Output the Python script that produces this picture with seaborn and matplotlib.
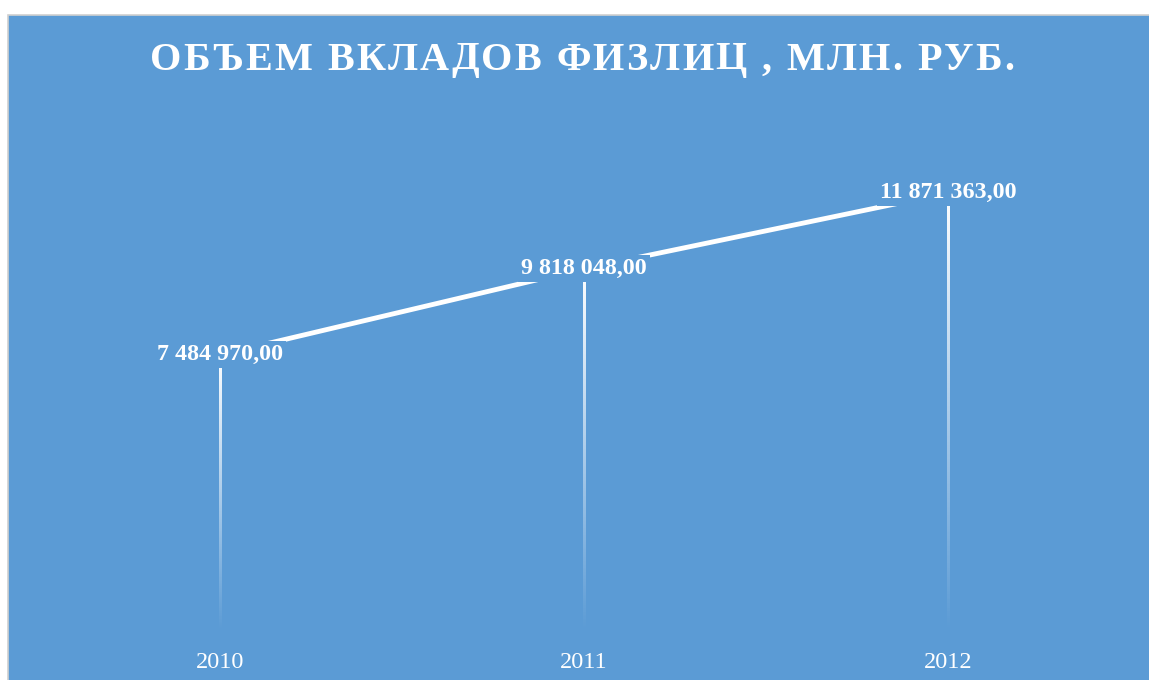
import numpy as np
import pandas as pd
import matplotlib
matplotlib.use("Agg")
import matplotlib.pyplot as plt
from matplotlib.colors import LinearSegmentedColormap
from matplotlib.patches import Rectangle
from matplotlib.font_manager import FontProperties
import seaborn as sns

# data
years = [2010, 2011, 2012]
deposits = [7484970.00, 9818048.00, 11871363.00]
title = "ОБЪЕМ ВКЛАДОВ ФИЗЛИЦ , МЛН. РУБ."

BLUE = "#5B9BD5"

def fmt(v):
    s = "{:,.2f}".format(v)
    return s.replace(",", " ").replace(".", ",")

sns.set_style("white")
plt.rcParams["font.family"] = ["Liberation Serif", "DejaVu Serif"]

df = pd.DataFrame({"year": years, "value": deposits})

W, H = 1149, 680
fig = plt.figure(figsize=(W / 100, H / 100), dpi=100)
fig.patch.set_facecolor("white")

# blue chart area with thin grey frame
bg = Rectangle((8 / W, -0.05), 1.1, 1 - 15 / H + 0.05,
               transform=fig.transFigure, facecolor=BLUE,
               edgecolor="#D0D0D0", linewidth=1.2, zorder=-10)
fig.patches.append(bg)

ax = fig.add_axes([8 / W, (H - 631) / H, (W - 8) / W, (631 - 100) / H])
ax.set_zorder(1)
ax.set_facecolor("none")
xlim = (2010 - 212 / 364, 2010 + (1149 - 220) / 364)
ylim = (0, 531 * 27100)

sns.lineplot(data=df, x="year", y="value", ax=ax, color="white",
             linewidth=3.5, zorder=2, solid_capstyle="butt")

# fading drop lines (white -> transparent)
fade = LinearSegmentedColormap.from_list("fade", [(1, 1, 1, 0), (1, 1, 1, 1)])
grad = np.linspace(0, 1, 256).reshape(-1, 1)
half = 1.3 / 364
for x, v in zip(years, deposits):
    ax.imshow(grad, cmap=fade, origin="lower", aspect="auto",
              extent=[x - half, x + half, 0, v], zorder=1,
              interpolation="bilinear")

ax.set_xlim(*xlim)
ax.set_ylim(*ylim)

for x, v in zip(years, deposits):
    ax.text(x, v, fmt(v), ha="center", va="center", color="white",
            fontsize=17.3, fontweight="bold", zorder=3,
            bbox=dict(facecolor=BLUE, edgecolor="none", pad=2))

ax.set_xticks(years)
ax.set_xticklabels([str(y) for y in years])
ax.tick_params(axis="x", colors="white", labelsize=17.5, length=0, pad=15)
ax.set_yticks([])
ax.set_xlabel("")
ax.set_ylabel("")
for s in ax.spines.values():
    s.set_visible(False)

# title with letter spacing, placed char by char
renderer = fig.canvas.get_renderer()
tprop = FontProperties(family=["Liberation Serif", "DejaVu Serif"],
                       weight="bold", size=29)
widths = [renderer.get_text_width_height_descent(c, tprop, ismath=False)[0]
          for c in title]
target = 865.0
gap = (target - sum(widths)) / (len(title) - 1)
xpos = 582 - target / 2
for c, w in zip(title, widths):
    fig.text(xpos / W, 1 - 60 / H, c, ha="left", va="center",
             color="white", fontproperties=tprop)
    xpos += w + gap

fig.savefig("out.png", dpi=100, facecolor="white")
